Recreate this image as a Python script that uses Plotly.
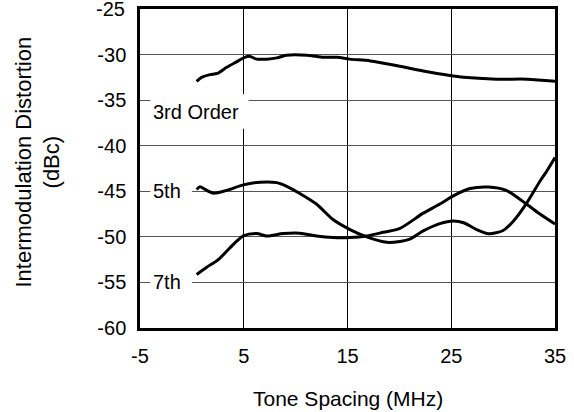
import plotly.graph_objects as go

# Tone spacing (MHz) and distortion (dBc)
third_x = [0.46, 0.94, 1.75, 2.45, 3.35, 4.3, 5.1, 5.6, 6.25, 7.2, 8.2, 9.1, 11.1,
           12.7, 14.0, 15.2, 17.2, 19.7, 22.3, 24.6, 26.2, 29.4, 32.3, 35]
third_y = [-32.93, -32.5, -32.2, -32.07, -31.4, -30.8, -30.3, -30.2, -30.5, -30.5,
           -30.36, -30.07, -30.07, -30.3, -30.3, -30.5, -30.7, -31.2, -31.8, -32.25,
           -32.5, -32.7, -32.7, -32.93]

fifth_x = [0.46, 0.78, 1.27, 2.07, 3.35, 4.96, 6.57, 8.18, 9.14, 10.42, 12.0, 13.6,
           15.24, 16.85, 18.8, 20.06, 21.0, 22.3, 23.9, 25.2, 26.2, 27.45, 28.6, 30.0,
           31.0, 32.27, 33.55, 34.2, 35]
fifth_y = [-44.8, -44.5, -44.8, -45.2, -44.9, -44.3, -44.0, -44.05, -44.45, -45.25,
           -46.4, -48.1, -49.2, -50.0, -50.6, -50.5, -50.25, -49.35, -48.55, -48.26,
           -48.45, -49.2, -49.65, -49.3, -48.26, -46.3, -43.9, -42.8, -41.3]

seventh_x = [0.46, 1.43, 2.55, 3.67, 4.96, 6.25, 7.2, 8.8, 10.4, 12.0, 13.6, 15.24,
             16.85, 18.45, 20.06, 22.3, 23.9, 25.2, 26.8, 28.6, 30.3, 32.3, 33.55, 35]
seventh_y = [-54.13, -53.33, -52.5, -51.2, -49.9, -49.64, -49.9, -49.64, -49.6, -49.9,
             -50.07, -50.07, -49.9, -49.5, -49.06, -47.4, -46.4, -45.5, -44.7, -44.53,
             -44.9, -46.45, -47.5, -48.6]

x_ticks = [-5, 5, 15, 25, 35]
y_ticks = [-60, -55, -50, -45, -40, -35, -30, -25]

series_labels = ["3rd Order", "5th", "7th"]
label_x = [-4.0, -4.0, -4.0]
label_y = [-36.25, -45, -55]

FONT = "Liberation Sans, Arial, sans-serif"

fig = go.Figure()
for xs, ys in [(third_x, third_y), (fifth_x, fifth_y), (seventh_x, seventh_y)]:
    fig.add_trace(go.Scatter(x=xs, y=ys, mode="lines",
                             line=dict(color="black", width=3, shape="spline", smoothing=0.8),
                             showlegend=False, hoverinfo="skip"))

# label boxes covering the gridlines
box_w = [9.45, 4.0, 4.0]
box_h = [3.8, 2.6, 2.6]
for i, lab in enumerate(series_labels):
    fig.add_shape(type="rect", xref="x", yref="y",
                  x0=label_x[i], x1=label_x[i] + box_w[i],
                  y0=label_y[i] - box_h[i] / 2, y1=label_y[i] + box_h[i] / 2,
                  fillcolor="white", line=dict(width=0), layer="above")
    fig.add_annotation(x=label_x[i] + 0.1, y=label_y[i], xref="x", yref="y",
                       text=lab, showarrow=False, xanchor="left", yanchor="middle",
                       font=dict(family=FONT, size=20, color="black"))

# top y tick label (plotly drops it at the very edge), drawn as text at its tick value
top_tick = y_ticks[-1]
fig.add_annotation(x=0, y=top_tick, xref="paper", yref="y", xshift=-13,
                   text=str(top_tick), showarrow=False, xanchor="right", yanchor="middle",
                   font=dict(family=FONT, size=20, color="black"))

fig.add_annotation(x=0.5, y=0, xref="paper", yref="paper", yshift=-70,
                   text="Tone Spacing (MHz)", showarrow=False,
                   xanchor="center", yanchor="middle",
                   font=dict(family=FONT, size=21, color="black"))
fig.add_annotation(x=0, y=0.5, xref="paper", yref="paper", xshift=-103, yshift=6,
                   text="Intermodulation Distortion<br>(dBc)", showarrow=False,
                   textangle=-90, xanchor="center", yanchor="middle",
                   font=dict(family=FONT, size=22, color="black"))

fig.update_xaxes(range=[-5, 35], tickvals=x_ticks, ticktext=[str(v) for v in x_ticks],
                 showgrid=True, gridcolor="black", gridwidth=1,
                 showline=True, linecolor="black", linewidth=2.5, mirror=True,
                 zeroline=False, ticks="", ticklabelstandoff=8,
                 tickfont=dict(family=FONT, size=20, color="black"))
fig.update_yaxes(range=[-60, -25], tickvals=y_ticks[:-1],
                 ticktext=[str(v) for v in y_ticks[:-1]],
                 showgrid=True, gridcolor="#555555", gridwidth=1,
                 showline=True, linecolor="black", linewidth=2.5, mirror=True,
                 zeroline=False, ticks="", ticklabelstandoff=7,
                 tickfont=dict(family=FONT, size=20, color="black"))

fig.update_layout(width=574, height=412,
                  margin=dict(l=140, r=19, t=6, b=84),
                  plot_bgcolor="white", paper_bgcolor="white",
                  font=dict(family=FONT, color="black"))

fig.write_html("out.html", config={"displayModeBar": False},
               post_script="document.body.style.margin='0';document.body.style.overflow='hidden';")
